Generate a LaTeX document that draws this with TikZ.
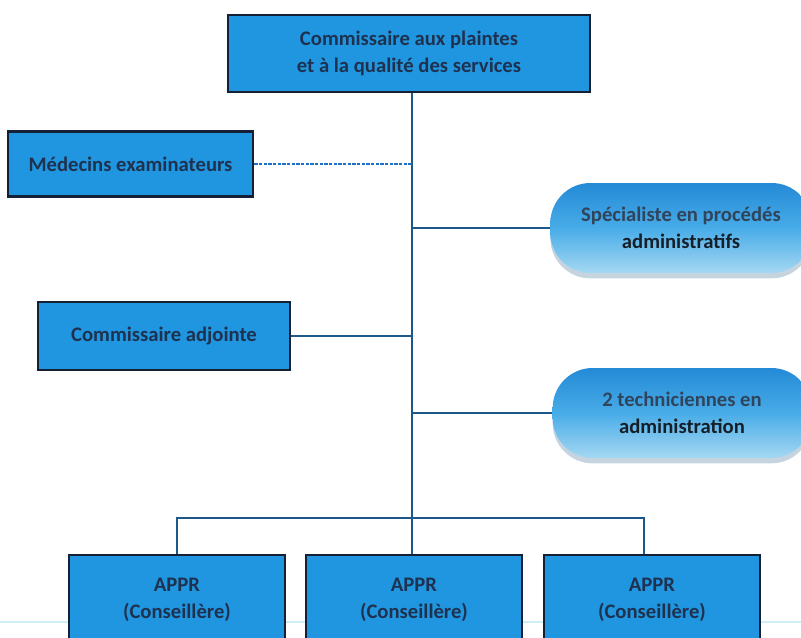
\documentclass[tikz,border=0pt]{standalone}
\usepackage{fontspec}
\setmainfont{Carlito}
\usetikzlibrary{shadows}
\definecolor{boxfill}{RGB}{32,150,224}
\definecolor{boxline}{RGB}{22,32,52}
\definecolor{boxtext}{RGB}{30,50,80}
\definecolor{softtext}{RGB}{48,68,92}
\definecolor{darktext}{RGB}{22,30,40}
\definecolor{linkline}{RGB}{28,88,138}
\definecolor{dotline}{RGB}{30,112,196}
\definecolor{roundtop}{RGB}{36,138,214}
\definecolor{roundmid}{RGB}{72,172,232}
\definecolor{roundbottom}{RGB}{165,216,242}
\definecolor{scanline}{RGB}{205,238,244}

\begin{document}
\begin{tikzpicture}[x=0.75pt, y=-0.75pt]
        \tikzstyle{every node} = [font=\fontsize{15.5}{20}\selectfont\bfseries, text=boxtext, align=center]
        \tikzstyle{squarebox} = [draw=boxline, line width=1.8pt, fill=boxfill]
        \tikzstyle{roundbox} = [rounded corners=30pt, top color=roundtop, bottom color=roundbottom, middle color=roundmid,
            minimum width=196pt, minimum height=67.5pt,
            drop shadow={shadow xshift=0pt, shadow yshift=-4pt, opacity=.35, fill=roundtop!40!gray}]
        \tikzstyle{link} = [draw=linkline, line width=1.5pt]
        \useasboundingbox (0,0) rectangle (801,637);

        \draw[scanline, line width=1.5pt] (0,622) -- (801,622);

        \node[squarebox, minimum width=271.5pt, minimum height=57.75pt] (top) at (409,53.5)
            {Commissaire aux plaintes\\et à la qualité des services};
        \node[squarebox, minimum width=183.75pt, minimum height=48.75pt] (medecins) at (130.5,164)
            {Médecins examinateurs};
        \node[squarebox, minimum width=189pt, minimum height=51pt] (adjointe) at (164,336)
            {Commissaire adjointe};
        \node[roundbox] (specialiste) at (681,228)
            {\color{softtext}Spécialiste en procédés\\\color{darktext}administratifs};
        \node[roundbox, minimum width=194pt] (techniciennes) at (682,413)
            {\color{softtext}2 techniciennes en\\\color{darktext}administration};

        \node[squarebox, minimum width=162pt, minimum height=67.5pt] (appr1) at (177,600)
            {APPR\\(Conseillère)};
        \node[squarebox, minimum width=162pt, minimum height=67.5pt] (appr2) at (414,600)
            {APPR\\(Conseillère)};
        \node[squarebox, minimum width=162pt, minimum height=67.5pt] (appr3) at (652,600)
            {APPR\\(Conseillère)};

        \coordinate (trunk) at (412,518);
        \draw[link] (top.south -| trunk) -- (trunk);
        \draw[dotline, line width=1.5pt, dash pattern=on 2.5pt off 1pt] (medecins.east) -- (medecins.east -| trunk);
        \draw[link] (specialiste.west) -- (specialiste.west -| trunk);
        \draw[link] (adjointe.east) -- (adjointe.east -| trunk);
        \draw[link] (techniciennes.west) -- (techniciennes.west -| trunk);
        \draw[link] (appr1.north) |- (trunk) -| ([xshift=-6pt]appr3.north);
        \draw[link] (trunk) -- (appr2.north -| trunk);
    \end{tikzpicture}
\end{document}
